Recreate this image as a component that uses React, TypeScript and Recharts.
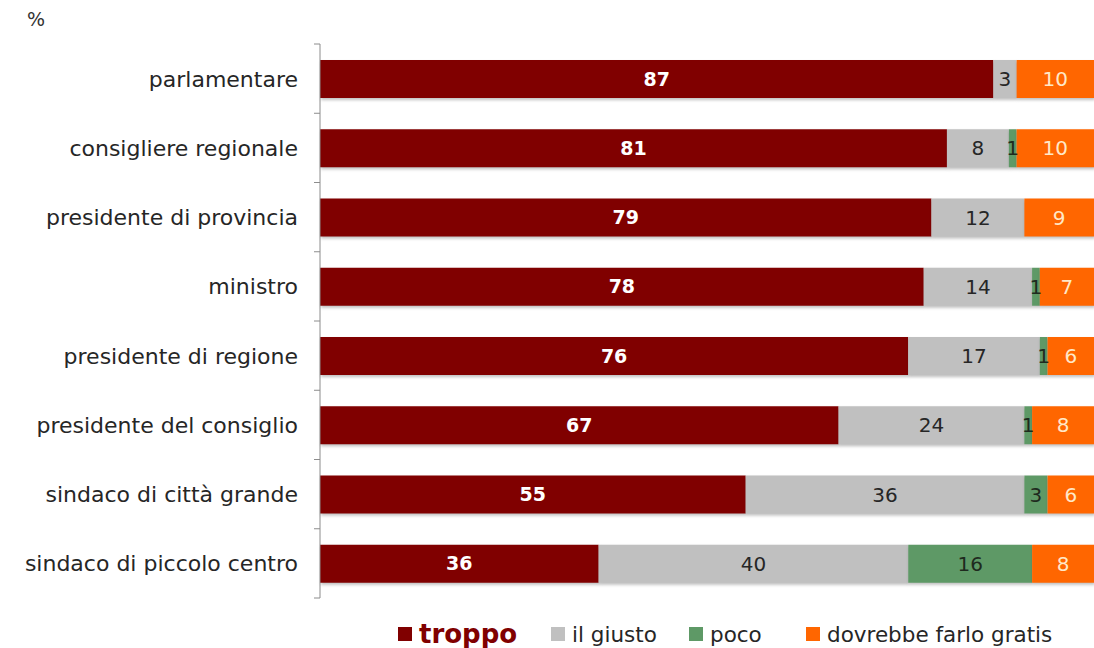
import React from "react";
import { Bar, BarChart, LabelList, XAxis, YAxis } from "recharts";

const categories = [
  "parlamentare",
  "consigliere regionale",
  "presidente di provincia",
  "ministro",
  "presidente di regione",
  "presidente del consiglio",
  "sindaco di città grande",
  "sindaco di piccolo centro",
];
const troppo = [87, 81, 79, 78, 76, 67, 55, 36];
const giusto = [3, 8, 12, 14, 17, 24, 36, 40];
const poco = [0, 1, 0, 1, 1, 1, 3, 16];
const gratis = [10, 10, 9, 7, 6, 8, 6, 8];

const seriesNames = ["troppo", "il giusto", "poco", "dovrebbe farlo gratis"];
const seriesColors = ["#800000", "#C0C0C0", "#5E9966", "#FF6600"];
const labelColors = ["#FFFFFF", "#262626", "#1E2A1E", "#FFE8C8"];

const data = categories.map((name, i) => ({
  name,
  troppo: troppo[i],
  giusto: giusto[i],
  poco: poco[i],
  gratis: gratis[i],
}));

const FONT = "'DejaVu Sans', sans-serif";
const W = 1094;
const H = 648;
const TOP = 44;
const BOTTOM = 50;
const BAND = (H - TOP - BOTTOM) / categories.length;

// legend item left edges
const legendLeft = [398, 551, 689, 806];

function CategoryTick(props: any) {
  const { x, y, payload, index } = props;
  const ax = x + 22;
  return (
    <g>
      <line x1={ax - 6} x2={ax} y1={y - BAND / 2} y2={y - BAND / 2} stroke="#8c8c8c" />
      {index === categories.length - 1 && (
        <line x1={ax - 6} x2={ax} y1={y + BAND / 2} y2={y + BAND / 2} stroke="#8c8c8c" />
      )}
      <text x={x} y={y} dy={8} textAnchor="end" fill="#262626" fontSize={22} fontFamily={FONT}>
        {payload.value}
      </text>
    </g>
  );
}

const hideZero = (v: any) => (v ? v : "");

export default function App() {
  const keys = ["troppo", "giusto", "poco", "gratis"];
  return (
    <div style={{ position: "absolute", left: 0, top: 0, width: W, height: H, background: "#fff" }}>
      <style>{`.recharts-bar-rectangle path { filter: drop-shadow(1px 2px 1.5px rgba(0,0,0,0.25)); }`}</style>
      <div style={{ position: "absolute", left: 27, top: 8, fontFamily: FONT, fontSize: 19, color: "#333" }}>%</div>
      <BarChart
        width={W}
        height={H}
        data={data}
        layout="vertical"
        barSize={38}
        margin={{ top: TOP, right: 0, bottom: BOTTOM, left: 0 }}
      >
        <XAxis type="number" domain={[0, 100]} hide />
        <YAxis
          type="category"
          dataKey="name"
          width={320}
          axisLine={{ stroke: "#8c8c8c" }}
          tickLine={false}
          tickSize={0}
          tick={<CategoryTick />}
          tickMargin={22}
          interval={0}
        />
        {keys.map((k, i) => (
          <Bar key={k} dataKey={k} stackId="a" fill={seriesColors[i]} isAnimationActive={false}>
            <LabelList
              dataKey={k}
              position="center"
              formatter={hideZero}
              fill={labelColors[i]}
              fontSize={i === 0 ? 19 : 20}
              fontWeight={i === 0 ? 700 : 400}
              fontFamily={FONT}
            />
          </Bar>
        ))}
      </BarChart>
      {seriesNames.map((n, i) => (
        <div
          key={n}
          style={{
            position: "absolute",
            top: 618,
            left: legendLeft[i],
            height: 32,
            display: "flex",
            alignItems: "center",
            fontFamily: FONT,
            whiteSpace: "nowrap",
          }}
        >
          <span style={{ width: 14, height: 14, background: seriesColors[i], display: "inline-block", marginRight: 7 }} />
          <span
            style={{
              fontSize: i === 0 ? 26 : 21.5,
              fontWeight: i === 0 ? 700 : 400,
              color: i === 0 ? "#800000" : "#262626",
            }}
          >
            {n}
          </span>
        </div>
      ))}
    </div>
  );
}
